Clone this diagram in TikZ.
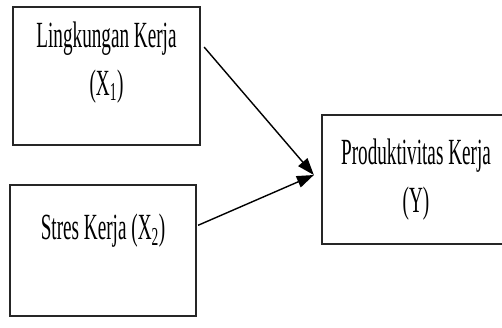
\documentclass[tikz,border=0pt]{standalone}
\usepackage{fontspec}
\setmainfont{Liberation Serif}
\usetikzlibrary{arrows.meta}
\newcommand{\condensed}[1]{\scalebox{0.52}[1]{#1}}
\tikzset{
  varbox/.style={draw=black!85, line width=1.3pt, minimum width=3.72cm, align=center,
    inner sep=0pt, font=\fontsize{21}{27}\selectfont},
  link/.style={-{Triangle[length=0.34cm,width=0.24cm]}, line width=0.8pt}
}
\begin{document}
\begin{tikzpicture}
\useasboundingbox (0,0) rectangle (10.04,6.54);
\clip (0,0) rectangle (10.04,6.54);

\node[varbox, minimum width=3.74cm, minimum height=2.76cm] (lk) at (2.13,5.02)
  {\condensed{Lingkungan Kerja}\\\condensed{(X\textsubscript{1})}\\[-0.25cm]\mbox{}};
\node[varbox, minimum height=2.62cm] (sk) at (2.06,1.53)
  {\condensed{Stres Kerja (X\textsubscript{2})}\\\mbox{}};
\node[varbox, draw=none, minimum height=2.54cm] (pk) at (8.32,2.95)
  {\condensed{Produktivitas Kerja}\\\condensed{(Y)}};
% box runs off the right margin
\draw[black!85, line width=1.3pt] ([xshift=0.5cm]pk.north east) -- (pk.north west)
  -- (pk.south west) -- ([xshift=0.5cm]pk.south east);

\coordinate (tip) at ([xshift=-0.16cm,yshift=0.09cm]pk.west);
\draw[link] ([xshift=0.06cm]lk.17) -- (tip);
\draw[link] ([xshift=0.02cm]sk.15) -- (tip);
\end{tikzpicture}
\end{document}
